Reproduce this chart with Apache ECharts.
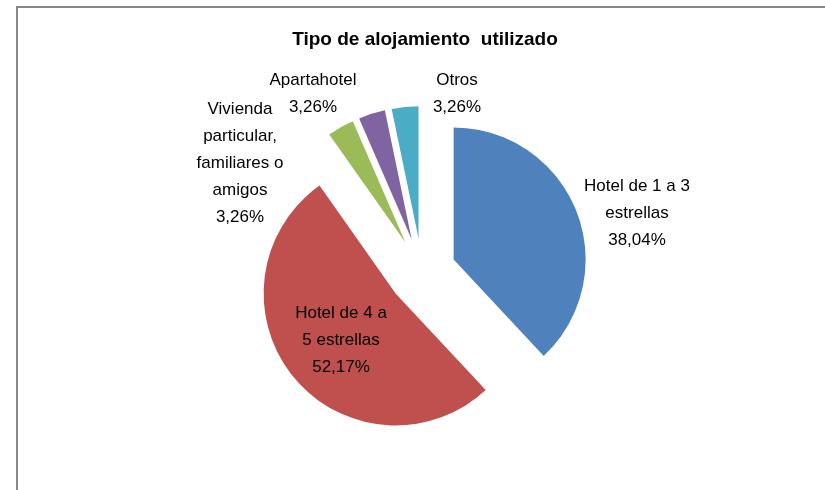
<!DOCTYPE html>
<html>
<head>
<meta charset="utf-8">
<script src="https://cdn.jsdelivr.net/npm/echarts@6/dist/echarts.min.js"></script>
<style>
  html, body { margin: 0; padding: 0; background: #fff; }
  #chart { width: 825px; height: 490px; }
</style>
</head>
<body>
<div id="chart"></div>
<script>
// categorias (con saltos de linea como en la etiqueta original)
const categories = [
  'Hotel de 1 a 3\nestrellas',
  'Hotel de 4 a\n5 estrellas',
  'Vivienda\nparticular,\nfamiliares o\namigos',
  'Apartahotel',
  'Otros'
];
// porcentajes
const shares = [38.04, 52.17, 3.26, 3.26, 3.26];
const colors = ['#4F81BD', '#C0504D', '#9BBB59', '#8064A2', '#4BACC6'];

// centro de cada bloque de texto (las etiquetas de Excel van sueltas)
const labelPos = [[637, 213], [341, 340], [240, 163], [313, 94], [457, 94]];

var chart = echarts.init(document.getElementById('chart'));

function pct(v) {
  return v.toFixed(2).replace('.', ',') + '%';
}

// etiquetas como texto libre, porque con las porciones separadas
// el labelLayout del pie no respeta x/y
var labels = categories.map(function (c, i) {
  return {
    type: 'text',
    silent: true,
    z: 100,
    x: labelPos[i][0],
    y: labelPos[i][1],
    style: {
      text: c + '\n' + pct(shares[i]),
      font: '17px "Liberation Sans"',
      fill: '#000',
      align: 'center',
      verticalAlign: 'middle',
      lineHeight: 27
    }
  };
});

var option = {
  animation: false,
  title: {
    text: 'Tipo de alojamiento  utilizado',
    left: 420,
    top: 25,
    textAlign: 'center',
    textStyle: {
      fontFamily: 'Liberation Sans',
      fontSize: 19,
      fontWeight: 'bold',
      color: '#000'
    }
  },
  graphic: [{
    type: 'rect',
    shape: { x: 17, y: 7, width: 900, height: 600 },
    style: { fill: 'none', stroke: '#888', lineWidth: 2 },
    silent: true
  }].concat(labels),
  series: [{
    type: 'pie',
    center: [422, 272],
    radius: 132,
    startAngle: 90,
    clockwise: true,
    selectedMode: 'multiple',
    selectedOffset: 34,
    avoidLabelOverlap: false,
    emphasis: { disabled: true },
    label: { show: false },
    labelLine: { show: false },
    data: categories.map(function (c, i) {
      return {
        name: c,
        value: shares[i],
        selected: true,
        itemStyle: { color: colors[i] }
      };
    })
  }]
};

chart.setOption(option);
</script>
</body>
</html>
